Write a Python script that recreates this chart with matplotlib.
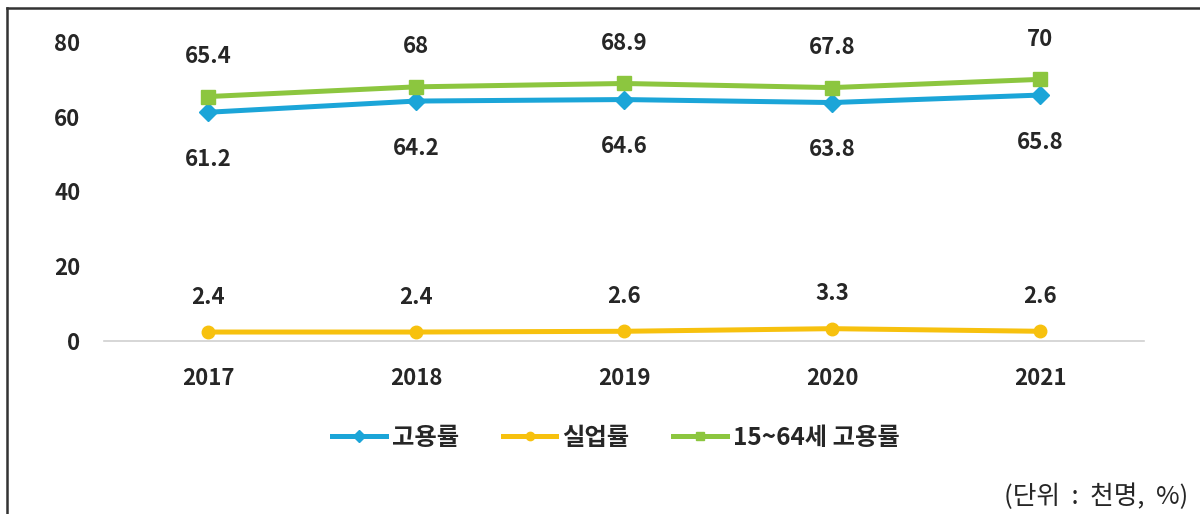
import matplotlib
matplotlib.use("Agg")
import matplotlib.pyplot as plt
from matplotlib.lines import Line2D

plt.rcParams['font.family'] = ['Noto Sans CJK KR', 'DejaVu Sans']

years = ['2017', '2018', '2019', '2020', '2021']
employment = [61.2, 64.2, 64.6, 63.8, 65.8]
unemployment = [2.4, 2.4, 2.6, 3.3, 2.6]
employment_15_64 = [65.4, 68, 68.9, 67.8, 70]
series_names = ['고용률', '실업률', '15~64세 고용률']
y_ticks = [0, 20, 40, 60, 80]
unit_text = '(단위  :  천명,  %)'

c_blue = '#1ba5d8'
c_yellow = '#f7c10e'
c_green = '#8cc63f'
txt = '#262626'

fig = plt.figure(figsize=(12, 5.14), dpi=100)
ax = fig.add_axes([104/1200, (514-341)/514, (1144-104)/1200, (341-42)/514])

x = list(range(len(years)))
ax.plot(x, employment, color=c_blue, lw=3.6, marker='D', ms=9, zorder=3)
ax.plot(x, unemployment, color=c_yellow, lw=3.6, marker='o', ms=9, zorder=3)
ax.plot(x, employment_15_64, color=c_green, lw=3.6, marker='s', ms=10, zorder=3)

def fmt(v):
    return ('%g' % v)

lbl = dict(ha='center', va='center', fontsize=16, fontweight='bold', color=txt,
           textcoords='offset points')
for xi, v in zip(x, employment_15_64):
    ax.annotate(fmt(v), (xi, v), xytext=(0, 29), **lbl)
for xi, v in zip(x, employment):
    ax.annotate(fmt(v), (xi, v), xytext=(0, -34), **lbl)
for xi, v in zip(x, unemployment):
    ax.annotate(fmt(v), (xi, v), xytext=(0, 25), **lbl)

ax.set_xlim(-0.5, len(years) - 0.5)
ax.set_ylim(0, 80)
ax.set_yticks(y_ticks)
ax.set_yticklabels([str(t) for t in y_ticks], fontsize=16, fontweight='bold', color=txt)
ax.set_xticks(x)
ax.set_xticklabels(years, fontsize=16, fontweight='bold', color=txt)
ax.tick_params(axis='y', length=0, pad=17)
ax.tick_params(axis='x', length=0, pad=19)
for s in ['top', 'right', 'left']:
    ax.spines[s].set_visible(False)
ax.spines['bottom'].set_color('#d0d0d0')
ax.spines['bottom'].set_linewidth(1.2)

handles = [
    Line2D([], [], color=c_blue, lw=3.6, marker='D', ms=6),
    Line2D([], [], color=c_yellow, lw=3.6, marker='o', ms=6),
    Line2D([], [], color=c_green, lw=3.6, marker='s', ms=6),
]
fig.legend(handles, series_names, loc='center', bbox_to_anchor=(616/1200, 1 - 438/514),
           ncol=3, frameon=False, handlelength=2.2, handletextpad=0.25, columnspacing=1.8,
           prop={'size': 17.5, 'weight': 'bold'}, labelcolor=txt)

fig.text(1188/1200, 1 - 497/514, unit_text, ha='right', va='center', fontsize=18.5, color=txt)

# partial frame (left and top edges)
fig.add_artist(Line2D([7/1200, 7/1200], [0, 1 - 8/514], transform=fig.transFigure, color='#333333', lw=1.8))
fig.add_artist(Line2D([7/1200, 1], [1 - 8/514, 1 - 8/514], transform=fig.transFigure, color='#333333', lw=1.8))

fig.savefig('out.png', dpi=100)
